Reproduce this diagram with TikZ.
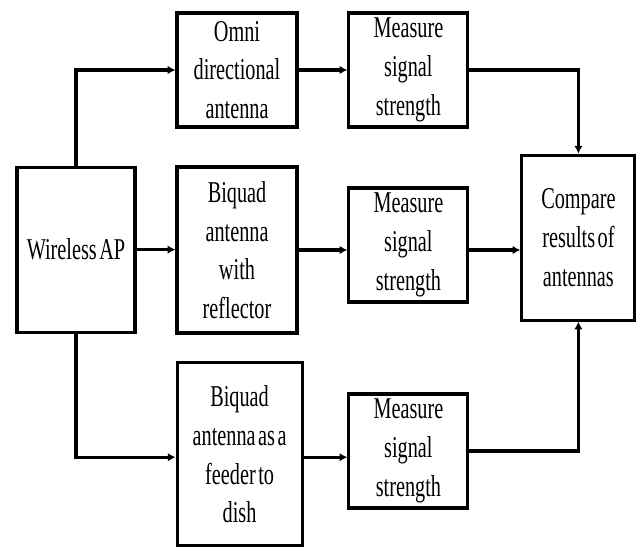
\documentclass[tikz,border=0pt]{standalone}
\usepackage{fontspec}
\setmainfont[FakeStretch=0.67, WordSpace=0.5]{Liberation Serif}
\usetikzlibrary{arrows.meta}
\begin{document}
\begin{tikzpicture}[
    box/.style={draw, line width=2.2pt, align=center, inner sep=0pt, font=\fontsize{21.5}{27.5}\selectfont},
    conn/.style={line width=2.2pt, -{Latex[length=5.5pt,width=6pt]}}]

  % frame of the picture
  \useasboundingbox (0,0) rectangle (16.075,-13.675);

  % source
  \node[box, minimum width=2.95cm, minimum height=4.125cm] (ap) at (1.90,-6.24) {Wireless AP};

  % antennas
  \node[box, minimum width=3cm, minimum height=2.85cm] (omni) at (5.925,-1.75) {Omni\\directional\\antenna};
  \node[box, minimum width=3cm, minimum height=4.15cm] (biquad) at (5.925,-6.25) {Biquad\\antenna\\with\\reflector};
  \node[box, minimum width=3.125cm, minimum height=4.575cm] (dish) at (5.99,-11.36) {Biquad\\antenna as a\\feeder to\\dish};

  % measurements
  \node[box, minimum width=2.975cm, minimum height=2.85cm] (meas1) at (10.21,-1.75) {Measure\\signal\\strength};
  \node[box, minimum width=2.975cm, minimum height=2.85cm] (meas2) at (10.21,-6.125) {Measure\\signal\\strength};
  \node[box, minimum width=2.975cm, minimum height=2.85cm] (meas3) at (10.21,-11.275) {Measure\\signal\\strength};

  % result
  \node[box, minimum width=2.825cm, minimum height=4.125cm] (cmp) at (14.46,-5.94) {Compare\\results of\\antennas};

  % connectors
  \draw[conn] (ap.north) |- (omni.west);
  \draw[conn] (ap.east) -- (ap.east -| biquad.west);
  \draw[conn] (ap.south) |- ([yshift=-0.07cm]dish.west);
  \draw[conn] (omni) -- (meas1);
  \draw[conn] (biquad.east) -- (biquad.east -| meas2.west);
  \draw[conn] (biquad.east -| meas2.east) -- (biquad.east -| cmp.west);
  \draw[conn] ([yshift=-0.07cm]dish.east) -- ([yshift=-0.07cm]dish.east -| meas3.west);
  \draw[conn] (meas1.east) -| (cmp.north);
  \draw[conn] (meas3.east) -| (cmp.south);

\end{tikzpicture}
\end{document}
